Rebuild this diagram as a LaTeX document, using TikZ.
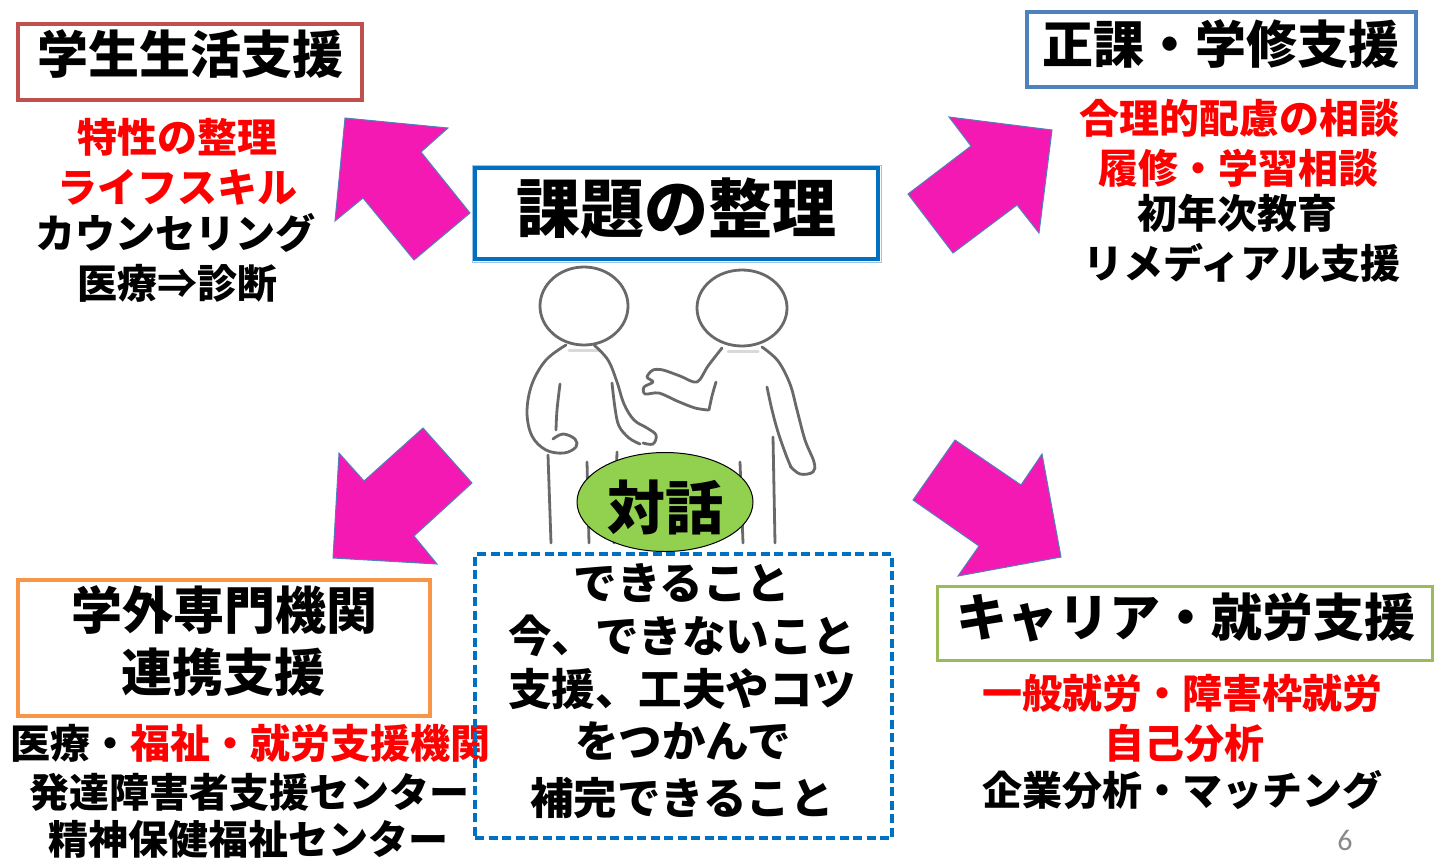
\documentclass[tikz,border=0pt]{standalone}
\usepackage{fontspec}
\setmainfont{Noto Sans CJK JP}
\newfontfamily\heavyfont{Noto Sans CJK JP Black}
\newfontfamily\pgfont{Carlito}
\definecolor{arrowpink}{RGB}{245,25,180}
\definecolor{arrowedge}{RGB}{79,129,189}
\definecolor{boxred}{RGB}{192,80,77}
\definecolor{boxblue}{RGB}{79,129,189}
\definecolor{mainblue}{RGB}{0,112,192}
\definecolor{lightblue}{RGB}{157,195,230}
\definecolor{boxorange}{RGB}{247,150,70}
\definecolor{boxgreen}{RGB}{155,187,89}
\definecolor{talkgreen}{RGB}{146,208,80}
\definecolor{figgray}{RGB}{105,105,105}
\definecolor{pagegray}{RGB}{137,137,137}
\definecolor{textred}{RGB}{255,0,0}
\usetikzlibrary{shapes.geometric}
\begin{document}
\begin{tikzpicture}[x=1pt,y=-1pt,
  frame/.style={draw, line width=4pt, inner sep=0pt, line join=miter},
  txt/.style={anchor=base, inner sep=0pt, outer sep=0pt},
  bigtxt/.style={txt, font=\bfseries\fontsize{51}{60}\selectfont},
  midtxt/.style={txt, font=\bfseries\fontsize{40}{48}\selectfont},
  dashtxt/.style={txt, font=\bfseries\fontsize{43.5}{52}\selectfont},
  redtxt/.style={midtxt, text=textred},
  blockarrow/.style={fill=arrowpink, draw=arrowedge, line width=1pt, line join=miter},
  fig/.style={draw=figgray, line width=2.8pt, line cap=round, line join=round},
  neck/.style={draw=gray!30, line width=3pt, line cap=round}
]
\useasboundingbox (0,0) rectangle (1439,857);
\fill[white] (0,0) rectangle (1439,857);

% ---- block arrows ----
\draw[blockarrow] (345,118) -- (448,128) -- (421,152) -- (470,213) -- (414,260) -- (363,198) -- (335,221) -- cycle;
\draw[blockarrow] (949,117) -- (1052,130) -- (1039,233) -- (1017,205) -- (953,253) -- (908,194) -- (971,146) -- cycle;
\draw[blockarrow] (955,440) -- (1021,485) -- (1042,454) -- (1061,557) -- (958,576) -- (979,546) -- (913,500) -- cycle;
\draw[blockarrow] (423,428) -- (472,483) -- (414,536) -- (437,564) -- (333,558) -- (339,453) -- (364,481) -- cycle;

% ---- two figures ----
\draw[neck] (569,350) -- (600,350);
\draw[neck] (728,351) -- (758,351);
\draw[fig] (584,306) ellipse [x radius=44, y radius=39];
\draw[fig] (742,308) ellipse [x radius=45, y radius=38];
% left figure
\draw[fig] plot[smooth, tension=0.6] coordinates {(566,345) (546,360) (532,384) (527,412) (532,436) (546,450) (564,453) (576,447) (575,439) (563,434) (553,439)};
\draw[fig] plot[smooth, tension=0.6] coordinates {(560,384) (557,410) (556,430)};
\draw[fig] (548,455) -- (551,543);
\draw[fig] (587,462) -- (589,543);
\draw[fig] plot[smooth, tension=0.6] coordinates {(594,345) (608,360) (617,382) (624,404) (634,420) (647,428) (656,435) (653,444) (643,443)};
\draw[fig] plot[smooth, tension=0.6] coordinates {(612,383) (615,408) (619,426) (629,438) (640,444)};
\draw[fig] (617,452) -- (614,543);
% right figure
\draw[fig] plot[smooth, tension=0.5] coordinates {(722,348) (708,366) (697,382) (680,376) (663,370) (653,370) (647,377) (653,382) (644,387) (645,394) (659,393) (677,401) (695,408) (708,410)};
\draw[fig] plot[smooth, tension=0.6] coordinates {(716,382) (712,396) (709,410)};
\draw[fig] (713,463) -- (709,543);
\draw[fig] (740,462) -- (743,543);
\draw[fig] plot[smooth, tension=0.6] coordinates {(762,347) (778,361) (790,384) (797,410) (805,440) (814,462) (813,472) (800,474) (790,466)};
\draw[fig] plot[smooth, tension=0.6] coordinates {(767,387) (772,410) (778,432) (786,455) (791,467)};
\draw[fig] (773,437) -- (775,543);

% ---- dialogue ellipse ----
\node[ellipse, draw=black, line width=1pt, fill=talkgreen, minimum width=176pt, minimum height=99pt, inner sep=0pt] (talk) at (665,502) {};
\node[txt, font=\heavyfont\fontsize{58}{64}\selectfont] (talktext) at (665,529) {対話};

% ---- centre box ----
\node[draw=lightblue, line width=1pt, inner sep=0pt, minimum width=409pt, minimum height=97pt] (coreouter) at (676.5,213.5) {};
\node[frame, draw=mainblue, minimum width=403pt, minimum height=91pt] (corebox) at (676.5,213.5) {};
\node[txt, font=\bfseries\fontsize{64}{72}\selectfont] (coretext) at (676,232) {課題の整理};

% ---- top left ----
\node[frame, draw=boxred, minimum width=344pt, minimum height=76pt] (lifebox) at (190,62) {};
\node[bigtxt] (lifetitle) at (190,73) {学生生活支援};
\node[redtxt] (life1) at (177,152) {特性の整理};
\node[redtxt] (life2) at (177,202) {ライフスキル};
\node[midtxt] (life3) at (175,248) {カウンセリング};
\node[midtxt] (life4) at (177,298) {医療⇒診断};

% ---- top right ----
\node[frame, draw=boxblue, minimum width=389pt, minimum height=75pt] (studybox) at (1221.5,49.5) {};
\node[bigtxt] (studytitle) at (1221,63) {正課・学修支援};
\node[redtxt] (study1) at (1239,133) {合理的配慮の相談};
\node[redtxt] (study2) at (1238,183) {履修・学習相談};
\node[midtxt] (study3) at (1237,228) {初年次教育};
\node[midtxt] (study4) at (1242,278) {リメディアル支援};

% ---- bottom left ----
\node[frame, draw=boxorange, minimum width=412pt, minimum height=136pt] (extbox) at (224,648) {};
\node[bigtxt] (ext1) at (224,629) {学外専門機関};
\node[bigtxt] (ext2) at (223,691) {連携支援};
\node[midtxt] (org1) at (250,758) {医療・\textcolor{textred}{福祉・就労支援機関}};
\node[midtxt] (org2) at (249,807) {発達障害者支援センター};
\node[midtxt] (org3) at (248,854) {精神保健福祉センター};

% ---- bottom centre ----
\node[draw=mainblue, line width=3.3pt, dash pattern=on 9pt off 4.5pt, inner sep=0pt, minimum width=417pt, minimum height=284pt] (canbox) at (683.5,696) {};
\node[dashtxt] (can1) at (682,599) {できること};
\node[dashtxt] (can2) at (682,652) {今、できないこと};
\node[dashtxt] (can3) at (682,705) {支援、工夫やコツ};
\node[dashtxt] (can4) at (683,757) {をつかんで};
\node[dashtxt] (can5) at (682,814) {補完できること};

% ---- bottom right ----
\node[draw=boxgreen, line width=3pt, inner sep=0pt, minimum width=495pt, minimum height=74pt] (careerbox) at (1185,623.5) {};
\node[bigtxt] (careertitle) at (1186,636) {キャリア・就労支援};
\node[redtxt] (career1) at (1182,708) {一般就労・障害枠就労};
\node[redtxt] (career2) at (1184,758) {自己分析};
\node[midtxt] (career3) at (1182,805) {企業分析・マッチング};

% ---- page number ----
\node[txt, font=\pgfont\fontsize{30}{34}\selectfont, text=pagegray] (pagenum) at (1345,850) {6};
\end{tikzpicture}
\end{document}
